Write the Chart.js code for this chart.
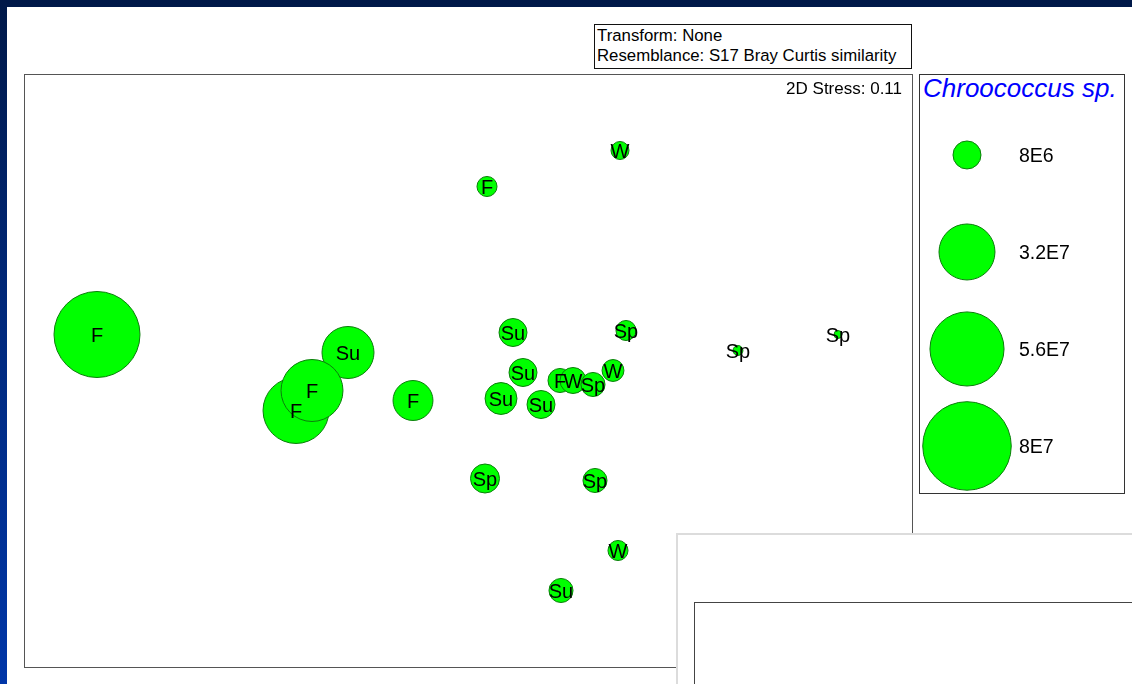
<!DOCTYPE html>
<html>
<head>
<meta charset="utf-8">
<script src="https://cdn.jsdelivr.net/npm/chart.js@4.4.1/dist/chart.umd.min.js"></script>
<style>
  html, body { margin: 0; padding: 0; }
  body {
    width: 1132px; height: 684px; overflow: hidden; position: relative;
    background: linear-gradient(to bottom, #001848 0%, #00287a 45%, #0036a8 100%);
    font-family: "Liberation Sans", Arial, sans-serif;
  }
  .page { position: absolute; left: 7px; top: 7px; right: 0; bottom: 0; background: #fff; }
  .abs { position: absolute; box-sizing: border-box; }
  #infoBox { left: 594px; top: 24px; width: 318px; height: 45px; border: 1.5px solid #111;
             font-size: 16.8px; line-height: 20px; padding: 1px 0 0 2px; color: #000; white-space: nowrap; }
  #plotFrame { left: 24px; top: 74px; width: 889px; height: 594px; border: 1.5px solid #555;
               pointer-events: none; z-index: 2; }
  #stress { left: 700px; top: 79px; width: 202px; text-align: right; font-size: 17px; z-index: 3; }
  #legendBox { left: 919px; top: 74px; width: 206px; height: 420px; border: 1.5px solid #333; }
  #legendTitle { left: 923px; top: 73px; font-size: 26px; font-style: italic; color: #0000ff; white-space: nowrap; }
  #coverOuter { left: 676px; top: 533px; width: 470px; height: 170px; background: #fff;
                border: 2px solid #dcdcdc; z-index: 5; }
  #coverInner { left: 694px; top: 602px; width: 460px; height: 100px; background: #fff;
                border: 1.5px solid #444; z-index: 6; }
</style>
</head>
<body>
<div class="page"></div>

<div class="abs" id="infoBox">Transform: None<br>Resemblance: S17 Bray Curtis similarity</div>

<canvas id="mdsChart" class="abs" width="888" height="593" style="left:24px;top:74px;"></canvas>
<div class="abs" id="plotFrame"></div>
<div class="abs" id="stress">2D Stress: 0.11</div>

<div class="abs" id="legendBox"></div>
<div class="abs" id="legendTitle">Chroococcus sp.</div>
<canvas id="legendChart" class="abs" width="203" height="387" style="left:920px;top:106px;"></canvas>

<div class="abs" id="coverOuter"></div>
<div class="abs" id="coverInner"></div>

<script>
// ─────────────────────────────────────
// MDS DATA (season label, coordinates, Chroococcus abundance)
// ─────────────────────────────────────

const seasons = ["Su", "F", "F", "F", "F", "F", "W", "Su", "Sp", "Su", "F",
                 "W", "Sp", "W", "Su", "Su", "Sp", "Sp", "Sp", "Sp", "W", "Su"];

const mdsX = [-0.60, -0.86, -0.78, -1.855, -0.275, 0.095, 0.76, 0.225, 0.79, 0.275, 0.46,
              0.525, 0.625, 0.725, 0.165, 0.365, 1.35, 1.85, 0.085, 0.635, 0.75, 0.465];

const mdsY = [0.09, -0.20, -0.10, 0.18, -0.15, 0.92, 1.10, 0.19, 0.20, -0.01, -0.05,
              -0.05, -0.07, 0.00, -0.14, -0.17, 0.10, 0.18, -0.54, -0.55, -0.90, -1.10];

const abundance = [2.76e7, 4.44e7, 3.92e7, 7.55e7, 1.63e7, 4.1e6, 3.3e6, 8.0e6, 4.1e6, 8.0e6, 5.9e6,
                   6.9e6, 5.9e6, 4.9e6, 1.04e7, 8.0e6, 1.0e6, 0.65e6, 8.6e6, 5.9e6, 4.1e6, 5.9e6];

// legend bubbles
const legendValues = [8e6, 3.2e7, 5.6e7, 8e7];
const legendLabels = ["8E6", "3.2E7", "5.6E7", "8E7"];


// bubble radius scales with sqrt of abundance (8E6 -> 14px)
function bubbleRadius(v) {
    return 14 * Math.sqrt(v / 8e6);
}

Chart.defaults.font.family = '"Liberation Sans", Arial, sans-serif';
Chart.defaults.animation = false;


// ─────────────────────────────────────
// LABEL PLUGINS
// ─────────────────────────────────────

const seasonLabels = {
    id: "seasonLabels",
    afterDatasetsDraw(chart) {
        const ctx = chart.ctx;
        const meta = chart.getDatasetMeta(0);
        ctx.save();
        ctx.font = '20px "Liberation Sans", Arial, sans-serif';
        ctx.fillStyle = "#000";
        ctx.textAlign = "center";
        ctx.textBaseline = "alphabetic";
        meta.data.forEach((el, i) => {
            ctx.fillText(seasons[i], el.x, el.y + 7);
        });
        ctx.restore();
    }
};

const legendText = {
    id: "legendText",
    afterDatasetsDraw(chart) {
        const ctx = chart.ctx;
        const meta = chart.getDatasetMeta(0);
        ctx.save();
        ctx.font = '19.5px "Liberation Sans", Arial, sans-serif';
        ctx.fillStyle = "#000";
        ctx.textAlign = "left";
        ctx.textBaseline = "alphabetic";
        meta.data.forEach((el, i) => {
            ctx.fillText(legendLabels[i], el.x + 52, el.y + 7);
        });
        ctx.restore();
    }
};


// ─────────────────────────────────────
// MDS BUBBLE CHART
// ─────────────────────────────────────

new Chart(document.getElementById("mdsChart"), {

    type: "bubble",

    data: {
        datasets: [{
            data: mdsX.map((x, i) => ({
                x: x,
                y: mdsY[i],
                r: bubbleRadius(abundance[i])
            })),
            backgroundColor: "#00ff00",
            borderColor: "#0b7d0b",
            borderWidth: 1,
            hoverRadius: 0,
            clip: false
        }]
    },

    options: {
        responsive: false,
        events: [],
        layout: { padding: 0, autoPadding: false },
        plugins: {
            legend: { display: false },
            tooltip: { enabled: false }
        },
        scales: {
            x: { type: "linear", min: -2.22, max: 2.22, display: false },
            y: { type: "linear", min: -1.4825, max: 1.4825, display: false }
        }
    },

    plugins: [seasonLabels]
});


// ─────────────────────────────────────
// SIZE LEGEND
// ─────────────────────────────────────

new Chart(document.getElementById("legendChart"), {

    type: "bubble",

    data: {
        datasets: [{
            data: legendValues.map((v, i) => ({
                x: 0.2315,
                y: i,
                r: bubbleRadius(v)
            })),
            backgroundColor: "#00ff00",
            borderColor: "#0b7d0b",
            borderWidth: 1,
            hoverRadius: 0,
            clip: false
        }]
    },

    options: {
        responsive: false,
        events: [],
        layout: { padding: 0, autoPadding: false },
        plugins: {
            legend: { display: false },
            tooltip: { enabled: false }
        },
        scales: {
            x: { type: "linear", min: 0, max: 1, display: false },
            y: { type: "linear", min: -0.505, max: 3.485, reverse: true, display: false }
        }
    },

    plugins: [legendText]
});
</script>
</body>
</html>
